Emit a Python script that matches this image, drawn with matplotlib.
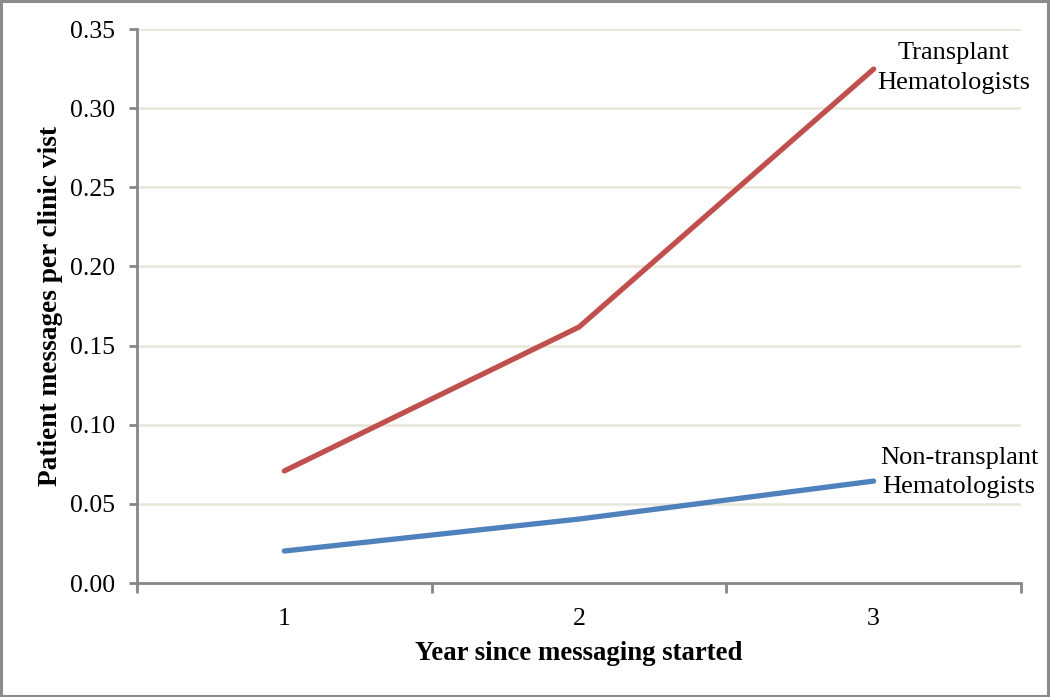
import matplotlib.pyplot as plt
from matplotlib.patches import Rectangle

years = [1, 2, 3]
transplant = [0.0708, 0.1617, 0.3247]
non_transplant = [0.0202, 0.0404, 0.0644]
yticks = [0.00, 0.05, 0.10, 0.15, 0.20, 0.25, 0.30, 0.35]

plt.rcParams['font.family'] = ['Liberation Serif', 'DejaVu Serif']

fig = plt.figure(figsize=(10.5, 6.97), dpi=100)
ax = fig.add_axes([137 / 1050, 1 - 583 / 697, 884 / 1050, 554 / 697])

# outer frame round the whole chart
fig.patches.append(Rectangle((0.001, 0.002), 0.997, 0.996, transform=fig.transFigure,
                             fill=False, edgecolor='#8c8c8c', linewidth=2.2))

axis_col = '#868686'
grid_col = '#e8e6d8'

ax.plot(years, transplant, color='#c0504d', linewidth=3.8, solid_capstyle='round')
ax.plot(years, non_transplant, color='#4f81bd', linewidth=3.8, solid_capstyle='round')

ax.set_xlim(0.5, 3.5)
ax.set_ylim(0, 0.35)
ax.set_yticks(yticks)
ax.set_yticklabels([f"{v:.2f}" for v in yticks])
ax.set_xticks(years)
ax.set_xticks([0.5, 1.5, 2.5, 3.5], minor=True)

for v in yticks[1:]:
    ax.axhline(v, color=grid_col, linewidth=1.8, zorder=0)

for s in ['top', 'right']:
    ax.spines[s].set_visible(False)
for s in ['left', 'bottom']:
    ax.spines[s].set_color(axis_col)
    ax.spines[s].set_linewidth(2)

ax.tick_params(axis='y', direction='out', length=6, width=2, color=axis_col,
               labelsize=18.5, pad=10)
ax.tick_params(axis='x', which='major', length=0, labelsize=18.5, pad=18)
ax.tick_params(axis='x', which='minor', direction='out', length=7, width=2, color=axis_col)

ax.set_ylabel("Patient messages per clinic vist", fontsize=19.7, fontweight='bold', labelpad=5)
ax.set_xlabel("Year since messaging started", fontsize=19.3, fontweight='bold', labelpad=8)

ax.text(3.27, transplant[2] + 0.0005, "Transplant\nHematologists", fontsize=19,
        ha='center', va='center', linespacing=1.45)
ax.text(3.29, non_transplant[2] + 0.0055, "Non-transplant\nHematologists", fontsize=19,
        ha='center', va='center', linespacing=1.45)

fig.savefig("out.png", dpi=100)
